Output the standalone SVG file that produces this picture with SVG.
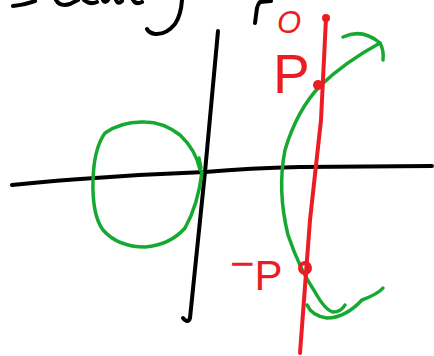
<svg xmlns="http://www.w3.org/2000/svg" width="434" height="356" viewBox="0 0 434 356">
<style>
.ink{fill:none;stroke-linecap:round;stroke-linejoin:round}
.blk{stroke:#000;stroke-width:4}
.grn{stroke:#17a832;stroke-width:3.5}
.red{stroke:#ec1c24;stroke-width:4}
.lbl{fill:#ec1c24;font-family:"Liberation Sans",Arial,sans-serif}
</style>
<rect width="434" height="356" fill="#fff"/>
<g id="heading-fragments" class="ink blk">
<path d="M13,6 Q24,5 35,1"/>
<path d="M56,0 Q60,7 70,4 L78,0"/>
<path d="M84,0 Q90,5 97,2"/>
<path d="M103,0 Q105,4 108,0 M116,0 Q118,5 122,1"/>
<path d="M133,0 Q136,5 142,2"/>
<path d="M182,0 Q181,15 175,24 Q166,35 155,34 Q149,33 147,29"/>
<path d="M271,1 L260,2 Q258,4 257,8 L255,23"/>
</g>
<g id="axes" class="ink blk">
<path d="M12,185 Q60,180 95,178 Q150,174 205,172 Q250,168 300,167 L432,166"/>
<path d="M218,31 L205,172 L190,318 Q188,324 183,318"/>
</g>
<g id="curves" class="ink grn">
<path d="M200,170 Q196,150 180,135 Q163,122 145,122 Q122,121 105,133 Q94,148 93,180 Q92,215 103,230 Q118,247 145,247 Q170,245 185,228 Q198,205 202,172"/>
<path d="M199,158 L201,168"/>
<path d="M343,37 Q362,28 380,43 Q384,50 383,60"/>
<path d="M380,43 Q345,62 320,86 Q297,110 285,150 Q277,190 288,235 Q300,270 315,292 Q325,310 333,312 Q341,312 345,305"/>
<path d="M307,305 Q312,316 327,318 Q345,318 362,300 Q378,294 383,288"/>
</g>
<g id="line" class="ink red">
<path d="M326,18 L321,120 L310,220 L300,353"/>
</g>
<g id="points">
<circle cx="326" cy="18" r="4" fill="#ec1c24"/>
<circle cx="318" cy="85" r="5" fill="#ec1c24"/>
<circle cx="305" cy="268" r="5" class="ink red" stroke-width="3.5"/>
</g>
<g id="labels">
<text class="lbl" x="277" y="33" font-size="31" font-style="italic">O</text>
<text class="lbl" x="273" y="93" font-size="55">P</text>
<text class="lbl" x="230" y="290" font-size="42"><tspan dy="-12">−</tspan><tspan dy="12">P</tspan></text>
</g>
</svg>
